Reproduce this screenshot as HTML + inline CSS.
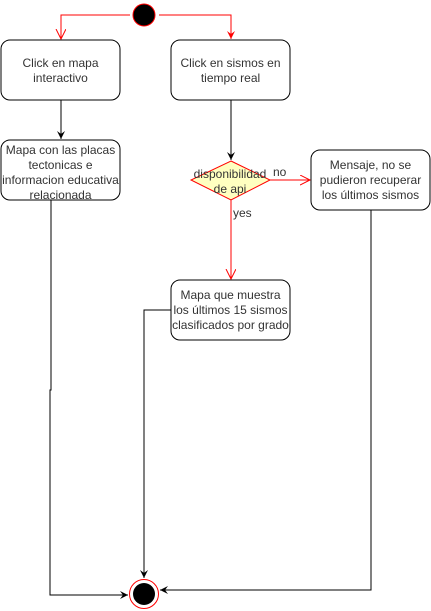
<!DOCTYPE html>
<html><head><style>body{margin:0;background:#fff}svg{display:block}text{font-family:"Liberation Sans",Helvetica,Arial,sans-serif;font-size:12px;fill:#333}</style></head><body>
<svg width="431" height="611" viewBox="0 0 431 611" xmlns="http://www.w3.org/2000/svg">
<defs>
<marker id="ob" markerWidth="10" markerHeight="10" refX="8" refY="5" orient="auto" markerUnits="userSpaceOnUse"><path d="M0,1 L8,5 L0,9 L3,5 Z" fill="#000"/></marker>
<marker id="or" markerWidth="12" markerHeight="12" refX="10" refY="5" orient="auto" markerUnits="userSpaceOnUse"><path d="M0,0 L10,5 L0,10" fill="none" stroke="#f00" stroke-width="1"/></marker>
<marker id="fr" markerWidth="10" markerHeight="10" refX="8" refY="5" orient="auto" markerUnits="userSpaceOnUse"><path d="M0,1 L8,5 L0,9 L3,5 Z" fill="#f00"/></marker>
</defs>
<circle cx="144" cy="15" r="11" fill="#000" stroke="#f00" stroke-width="1"/>
<path d="M130,15 H61 V39" fill="none" stroke="#f00" marker-end="url(#or)"/>
<path d="M159,15 H231 V39" fill="none" stroke="#f00" marker-end="url(#fr)"/>
<rect x="1" y="40" width="119" height="60" rx="9" fill="#fff" stroke="#000"/>
<text x="60.5" y="67" text-anchor="middle">Click en mapa</text><text x="60.5" y="82" text-anchor="middle">interactivo</text>
<rect x="171" y="40" width="119" height="60" rx="9" fill="#fff" stroke="#000"/>
<text x="230.5" y="67" text-anchor="middle">Click en sismos en</text><text x="230.5" y="82" text-anchor="middle">tiempo real</text>
<path d="M61,100 V139" stroke="#000" fill="none" marker-end="url(#ob)"/>
<path d="M231,100 V160" stroke="#000" fill="none" marker-end="url(#ob)"/>
<rect x="1" y="140" width="119" height="60" rx="9" fill="#fff" stroke="#000"/>
<text x="60.5" y="154" text-anchor="middle">Mapa con las placas</text><text x="60.5" y="169" text-anchor="middle">tectonicas e</text><text x="60.5" y="184" text-anchor="middle">informacion educativa</text><text x="60.5" y="199" text-anchor="middle">relacionada</text>
<path d="M231,161 L270,180 L231,200 L191,180 Z" fill="#ffffc0" stroke="#f00"/>
<text x="230" y="178" text-anchor="middle">disponibilidad</text><text x="230" y="193" text-anchor="middle">de api</text>
<path d="M270,180 H310" stroke="#f00" fill="none" marker-end="url(#or)"/>
<text x="273" y="176" font-size="11">no</text>
<path d="M231,200 V279" stroke="#f00" fill="none" marker-end="url(#or)"/>
<text x="233" y="217" font-size="11">yes</text>
<rect x="311" y="150" width="119" height="60" rx="9" fill="#fff" stroke="#000"/>
<text x="370.5" y="169" text-anchor="middle">Mensaje, no se</text><text x="370.5" y="184" text-anchor="middle">pudieron recuperar</text><text x="370.5" y="199" text-anchor="middle">los últimos sismos</text>
<rect x="171" y="280" width="119" height="60" rx="9" fill="#fff" stroke="#000"/>
<text x="230.5" y="299" text-anchor="middle">Mapa que muestra</text><text x="230.5" y="314" text-anchor="middle">los últimos 15 sismos</text><text x="230.5" y="329" text-anchor="middle">clasificados por grado</text>
<path d="M51,200 V390 H50 V595 H128" stroke="#000" fill="none" marker-end="url(#ob)"/>
<path d="M171,310 H144 V578" stroke="#000" fill="none" marker-end="url(#ob)"/>
<path d="M371,210 V590 H160" stroke="#000" fill="none" marker-end="url(#ob)"/>
<circle cx="144" cy="594" r="14.5" fill="#fff" stroke="#f00"/>
<circle cx="144" cy="594" r="11" fill="#000"/>
</svg>
</body></html>
